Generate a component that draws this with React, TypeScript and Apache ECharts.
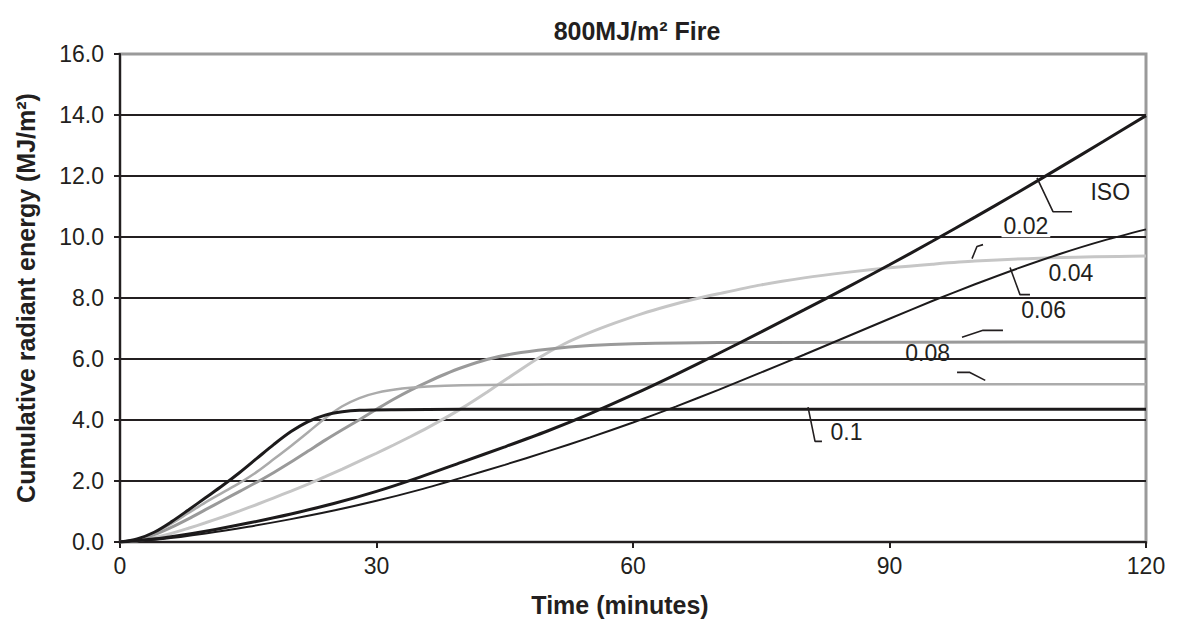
import React, { useEffect, useRef } from "react";
import * as echarts from "echarts";

// ---- data (time in minutes, cumulative radiant energy in MJ/m²) ----
const curveISO: number[][] = [
  [0, 0], [5, 0.13], [10, 0.35], [15, 0.62], [20, 0.92], [25, 1.26], [30, 1.66], [35, 2.12],
  [40, 2.62], [45, 3.12], [50, 3.64], [55, 4.21], [60, 4.83], [65, 5.49], [70, 6.18], [75, 6.89],
  [80, 7.61], [85, 8.34], [90, 9.09], [95, 9.86], [100, 10.65], [105, 11.46], [110, 12.29],
  [115, 13.13], [120, 13.98],
];
const curveThin: number[][] = [
  [0, 0], [5, 0.1], [10, 0.28], [15, 0.5], [20, 0.75], [25, 1.03], [30, 1.35], [35, 1.71],
  [40, 2.11], [45, 2.53], [50, 2.97], [55, 3.43], [60, 3.92], [65, 4.44], [70, 4.99], [75, 5.56],
  [80, 6.14], [85, 6.73], [90, 7.32], [95, 7.9], [100, 8.45], [105, 8.97], [110, 9.45],
  [115, 9.88], [120, 10.25],
];
const curveLight: number[][] = [
  [0, 0], [2, 0.04], [4, 0.14], [6, 0.28], [8, 0.45], [10, 0.63], [12, 0.82], [14, 1.02],
  [16, 1.23], [18, 1.45], [20, 1.67], [22, 1.9], [24, 2.14], [26, 2.39], [28, 2.65], [30, 2.91],
  [32, 3.18], [34, 3.46], [36, 3.75], [38, 4.06], [40, 4.39], [43, 4.93], [46, 5.49], [49, 6.04],
  [52, 6.5], [55, 6.87], [58, 7.19], [61, 7.48], [64, 7.73], [67, 7.95], [70, 8.14], [75, 8.43],
  [80, 8.66], [85, 8.84], [90, 8.99], [95, 9.11], [100, 9.21], [110, 9.33], [120, 9.38],
];
const curve006: number[][] = [
  [0, 0], [2, 0.07], [4, 0.24], [6, 0.48], [8, 0.76], [10, 1.06], [12, 1.36], [14, 1.66],
  [16, 1.96], [18, 2.28], [20, 2.62], [22, 2.98], [24, 3.34], [26, 3.68], [28, 4.01], [30, 4.35],
  [32, 4.68], [34, 4.98], [36, 5.25], [38, 5.5], [40, 5.72], [43, 5.99], [46, 6.17], [50, 6.32],
  [55, 6.44], [60, 6.5], [70, 6.54], [120, 6.56],
];
const curve008: number[][] = [
  [0, 0], [2, 0.08], [4, 0.3], [6, 0.6], [8, 0.95], [10, 1.3], [12, 1.62], [14, 1.94],
  [16, 2.3], [18, 2.72], [20, 3.15], [22, 3.6], [24, 4.06], [26, 4.45], [28, 4.72], [30, 4.89],
  [33, 5.03], [36, 5.1], [40, 5.14], [50, 5.16], [120, 5.17],
];
const curve01: number[][] = [
  [0, 0], [2, 0.1], [4, 0.32], [6, 0.66], [8, 1.05], [10, 1.45], [12, 1.85], [14, 2.28],
  [16, 2.74], [18, 3.2], [20, 3.62], [22, 3.95], [24, 4.16], [26, 4.27], [28, 4.32], [32, 4.34],
  [40, 4.35], [120, 4.35],
];

const seriesNames = ["ISO", "0.02", "0.04", "0.06", "0.08", "0.1"];
const seriesColors = ["#1c1a1b", "#1c1a1b", "#c6c6c6", "#9a9a9a", "#ababab", "#1c1a1b"];
const seriesWidths = [3, 2, 3, 3, 2.5, 3];

// annotation labels and leader lines (data coordinates)
const labelTexts = ["ISO", "0.02", "0.04", "0.06", "0.08", "0.1"];
const labelPositions: number[][] = [
  [113.5, 11.49], [103.1, 10.37], [108.6, 8.82], [105.4, 7.62], [91.85, 6.2], [83.1, 3.62],
];
const labelWhiteBg = [false, true, false, false, false, false];
const leaderISO: number[][] = [[107.25, 11.94], [109.12, 10.83], [111.35, 10.83]];
const leader002: number[][] = [[99.65, 9.29], [100.23, 9.69], [100.94, 9.75]];
const leader004: number[][] = [[104.1, 9.0], [105.26, 8.11], [106.43, 8.11]];
const leader006: number[][] = [[98.48, 6.71], [100.94, 6.94], [103.27, 6.94]];
const leader008: number[][] = [[97.9, 5.56], [99.4, 5.56], [101.2, 5.3]];
const leader01: number[][] = [[80.47, 4.42], [81.29, 3.3], [82.1, 3.3]];

const xMin = 0, xMax = 120, xStep = 30;
const yMin = 0, yMax = 16, yStep = 2;

const FONT = "'Liberation Sans', Arial, Helvetica, sans-serif";
const TEXT = "#231f20";

export default function App() {
  const ref = useRef<HTMLDivElement>(null);
  useEffect(() => {
    if (!ref.current) return;
    const chart = echarts.init(ref.current, undefined, { renderer: "svg" });
    const curves = [curveISO, curveThin, curveLight, curve006, curve008, curve01];
    const order = [2, 3, 4, 1, 0, 5];
    const lineSeries = order.map((i) => ({
      name: seriesNames[i],
      type: "line",
      data: curves[i],
      showSymbol: false,
      symbol: "none",
      smooth: 0.3,
      silent: true,
      lineStyle: { color: seriesColors[i], width: seriesWidths[i] },
      z: 3,
    }));
    const leaders = [leaderISO, leader002, leader004, leader006, leader008, leader01];
    const leaderSeries = leaders.map((d, i) => ({
      name: "leader" + i,
      type: "line",
      data: d,
      showSymbol: false,
      symbol: "none",
      silent: true,
      lineStyle: { color: TEXT, width: 1.6 },
      z: 4,
    }));
    const labelSeries = labelTexts.map((t, i) => ({
      name: "label" + i,
      type: "scatter",
      data: [labelPositions[i]],
      symbolSize: 0,
      silent: true,
      z: 5,
      itemStyle: { color: TEXT, opacity: 1 },
      label: {
        show: true,
        position: "right",
        distance: 0,
        formatter: t,
        fontFamily: FONT,
        fontSize: 23,
        color: TEXT,
        opacity: 1,
        backgroundColor: labelWhiteBg[i] ? "#ffffff" : "transparent",
        padding: labelWhiteBg[i] ? [0, 2, 0, 2] : 0,
      },
    }));
    const splitColors = [] as string[];
    for (let v = yMin; v <= yMax; v += yStep) splitColors.push(v === yMax ? "rgba(0,0,0,0)" : "#231f20");

    chart.setOption({
      animation: false,
      backgroundColor: "#ffffff",
      textStyle: { fontFamily: FONT },
      title: {
        text: "800MJ/m² Fire",
        left: 632,
        top: 13,
        textAlign: "center",
        textStyle: { fontFamily: FONT, fontSize: 25, fontWeight: "bold", color: TEXT },
      },
      grid: {
        left: 120,
        right: 36,
        top: 54,
        bottom: 79,
        show: true,
        borderColor: "#9a9a9a",
        borderWidth: 3,
        backgroundColor: "#ffffff",
      },
      xAxis: {
        type: "value",
        min: xMin,
        max: xMax,
        interval: xStep,
        name: "Time (minutes)",
        nameLocation: "middle",
        nameGap: 50,
        nameTextStyle: {
          fontFamily: FONT,
          fontSize: 25,
          fontWeight: "bold",
          color: TEXT,
          padding: [0, 26, 0, 0],
        },
        axisLine: { show: true, lineStyle: { color: TEXT, width: 2 } },
        axisTick: { show: true, length: 6, lineStyle: { color: TEXT, width: 2 } },
        axisLabel: { fontFamily: FONT, fontSize: 23, color: TEXT, margin: 12 },
        splitLine: { show: false },
      },
      yAxis: {
        type: "value",
        min: yMin,
        max: yMax,
        interval: yStep,
        name: "Cumulative radiant energy (MJ/m²)",
        nameLocation: "middle",
        nameGap: 82,
        nameTextStyle: { fontFamily: FONT, fontSize: 25, fontWeight: "bold", color: TEXT },
        axisLine: { show: true, lineStyle: { color: TEXT, width: 2 } },
        axisTick: { show: true, length: 6, lineStyle: { color: TEXT, width: 2 } },
        axisLabel: {
          fontFamily: FONT,
          fontSize: 23,
          color: TEXT,
          margin: 16,
          formatter: (v: number) => v.toFixed(1),
        },
        splitLine: { show: true, lineStyle: { color: splitColors, width: 2 } },
      },
      series: [...lineSeries, ...leaderSeries, ...labelSeries],
    });
    return () => chart.dispose();
  }, []);
  return (
    <div
      ref={ref}
      style={{ position: "absolute", left: 0, top: 0, width: 1182, height: 622 }}
    />
  );
}
